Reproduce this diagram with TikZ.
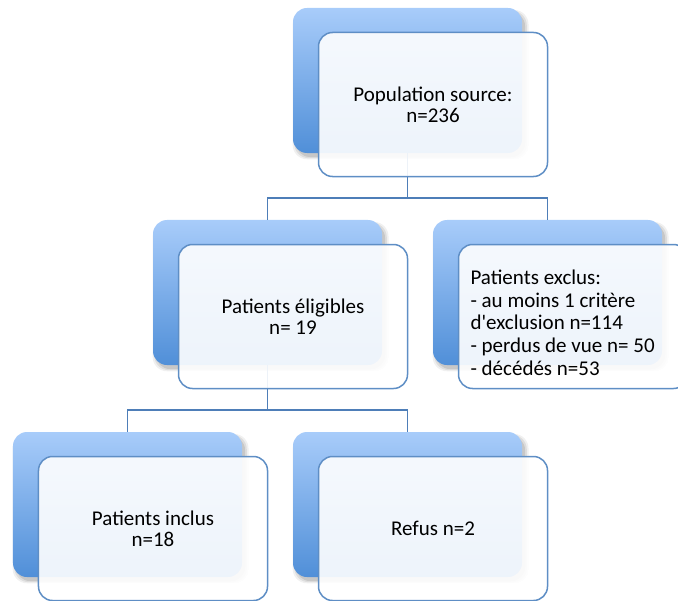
\documentclass[tikz,border=0pt]{standalone}
\usepackage{fontspec}
\setmainfont{Carlito}
\usetikzlibrary{shadows}
\definecolor{backtop}{RGB}{168,204,250}
\definecolor{backbot}{RGB}{80,143,216}
\definecolor{frontline}{RGB}{94,142,197}
\definecolor{connline}{RGB}{78,126,184}
\begin{document}
\begin{tikzpicture}[x=1bp,y=-1bp,
  shadowed/.style={
    drop shadow={shadow xshift=3bp,shadow yshift=-4bp,opacity=0.10,fill=black,shadow scale=1.00},
    drop shadow={shadow xshift=3bp,shadow yshift=-4bp,opacity=0.08,fill=black,shadow scale=1.015},
    drop shadow={shadow xshift=3bp,shadow yshift=-4bp,opacity=0.06,fill=black,shadow scale=1.03}},
  backbox/.style={rounded corners=14bp, minimum width=229bp, minimum height=145bp,
    inner sep=0pt, top color=backtop, bottom color=backbot, draw=none, shadowed},
  frontbox/.style={rounded corners=14bp, minimum width=229bp, minimum height=144bp,
    inner sep=0pt, draw=frontline, line width=1.5bp, fill=white, fill opacity=0.9,
    text opacity=1, align=center, font=\fontsize{21bp}{20.7bp}\selectfont},
  conn/.style={draw=connline, line width=1.6bp}
]
\path[use as bounding box, clip] (0,0) rectangle (678,601);
% back boxes
\node[backbox] (bA) at (407.5,80.5) {};
\node[backbox] (bB) at (267.5,292.5) {};
\node[backbox] (bC) at (547.5,292.5) {};
\node[backbox] (bD) at (127.5,504.5) {};
\node[backbox] (bE) at (407.5,504.5) {};
% connectors
\coordinate (j1) at (407.5,198);
\coordinate (j2) at (267.5,410);
\draw[conn] (bA.south) -- (j1) -| (bB.north);
\draw[conn] (j1) -| (bC.north);
\draw[conn] (bB.south) -- (j2) -| (bD.north);
\draw[conn] (j2) -| (bE.north);
% front boxes
\node[frontbox] (fA) at (433,104.5) {Population source:\\n=236};
\node[frontbox] (fB) at (293,316.5) {Patients éligibles\\n= 19};
\node[frontbox, align=flush left, text width=205bp, inner xsep=12bp,
  font=\fontsize{21bp}{22.6bp}\selectfont] (fC) at (573,316.5)
  {\rule{0pt}{27bp}Patients exclus:\\- au moins 1 critère\\d\textquotesingle exclusion n=114\\- perdus de vue n= 50\\- décédés n=53};
\node[frontbox] (fD) at (153,528.5) {Patients inclus\\n=18};
\node[frontbox] (fE) at (433,528.5) {Refus n=2};
\end{tikzpicture}
\end{document}
